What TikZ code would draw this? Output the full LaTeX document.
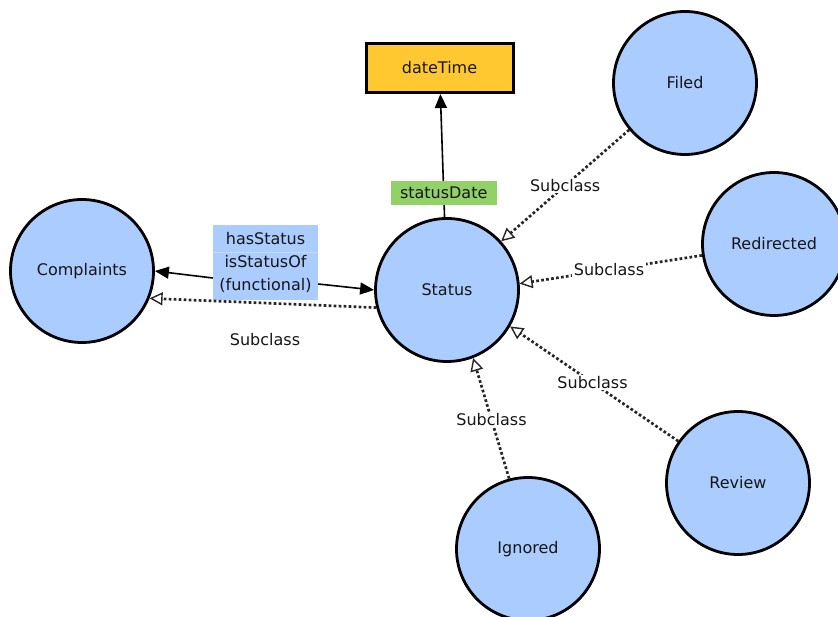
\documentclass[tikz,border=0pt]{standalone}
\usepackage{fontspec}
\setmainfont{DejaVu Sans}
\usetikzlibrary{arrows.meta}
\definecolor{classblue}{RGB}{170,204,255}
\definecolor{dtyellow}{RGB}{255,200,48}
\definecolor{propgreen}{RGB}{146,208,104}
\definecolor{ink}{RGB}{22,22,22}

\begin{document}
\begin{tikzpicture}[x=1pt,y=-1pt,
  font=\fontsize{16}{23}\selectfont,
  cls/.style={circle, draw=black, line width=2.8pt, fill=classblue,
    minimum size=143pt, inner sep=0pt, text=ink},
  dtype/.style={rectangle, draw=black, line width=3pt, fill=dtyellow,
    minimum width=147pt, minimum height=49pt, text=ink},
  proplabel/.style={rectangle, inner sep=2pt, text=ink},
  rel/.style={draw=black, line width=1.6pt, -{Triangle[length=14pt,width=12pt]}},
  sub/.style={draw=black!85, line width=2.7pt, dash pattern=on 2.7pt off 2.3pt,
    -{Triangle[open,length=13pt,width=13pt,line width=1.4pt]}},
  sublabel/.style={fill=white, inner sep=1.5pt, text=ink},
]
\clip (0,0) rectangle (838,617);

% classes
\node[cls] (cp) at (82,271) {Complaints};
\node[cls] (st) at (447,290) {Status};
\node[cls] (fl) at (685,83) {Filed};
\node[cls] (rd) at (774,244) {Redirected};
\node[cls] (rv) at (738,483) {Review};
\node[cls] (ig) at (528,549) {Ignored};

% datatype
\node[dtype] (dt) at (439.5,68) {dateTime};

% datatype property
\draw[rel] (st) -- node[proplabel, fill=propgreen, minimum width=106pt,
  minimum height=24pt, pos=0.2] (sd) {statusDate} (dt);

% object property with its inverse
\node[proplabel, fill=classblue, minimum width=105pt, minimum height=75pt,
  align=center] (hs) at (265.5,262.5) {hasStatus\\isStatusOf\\(functional)};
\draw[white, line width=0.7pt, opacity=0.3]
  ([yshift=10.5pt]hs.west) -- ([yshift=10.5pt]hs.east);
\draw[rel] ([yshift=-15.5pt]hs.west) -- (cp.east);
\draw[rel] ([yshift=-21.5pt]hs.east) -- (st.west);

% subclass links
\draw[sub] (st.194) -- (cp.-22);
\node[text=ink] (sc) at (265,340) {Subclass};
\draw[sub] (fl.220.7) -- node[sublabel, pos=0.5] (sf) {Subclass} (st.42);
\draw[sub] (rd.189.6) -- node[sublabel, pos=0.51] (sr) {Subclass} (st.5.3);
\draw[sub] (rv.145.3) -- node[sublabel, pos=0.51] (sv) {Subclass} (st.-30.3);
\draw[sub] (ig.105.5) -- node[sublabel, pos=0.49] (si) {Subclass} (st.-69.9);
\end{tikzpicture}
\end{document}
